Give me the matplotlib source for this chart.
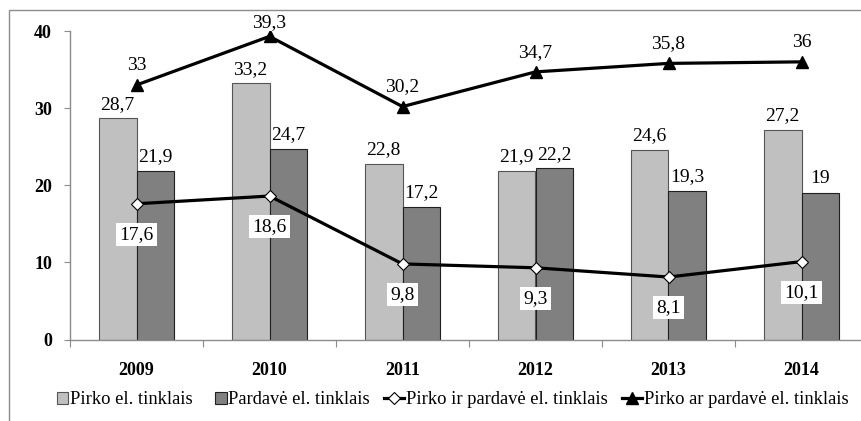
import numpy as np
import matplotlib
matplotlib.use("Agg")
import matplotlib.pyplot as plt
from matplotlib.patches import Rectangle
from matplotlib.lines import Line2D

plt.rcParams['font.family'] = ['Liberation Serif', 'DejaVu Serif']

years = ["2009", "2010", "2011", "2012", "2013", "2014"]
pirko = [28.7, 33.2, 22.8, 21.9, 24.6, 27.2]
pardave = [21.9, 24.7, 17.2, 22.2, 19.3, 19.0]
pirko_ir = [17.6, 18.6, 9.8, 9.3, 8.1, 10.1]
pirko_ar = [33, 39.3, 30.2, 34.7, 35.8, 36]

names = ["Pirko el. tinklais", "Pardavė el. tinklais",
         "Pirko ir pardavė el. tinklais", "Pirko ar pardavė el. tinklais"]

def fmt(v):
    s = ("%.1f" % v).rstrip("0").rstrip(".")
    return s.replace(".", ",")

fig = plt.figure(figsize=(8.61, 4.21), dpi=100)
# outer chart border (right and bottom run off the image)
fig.patches.append(Rectangle((9/861, -0.05), 1.2, 1 - 10/421 + 0.05,
                             transform=fig.transFigure, fill=False,
                             edgecolor='#8c8c8c', lw=1.0))

ax = fig.add_axes([70/861, 81.5/421, 798/861, 308.5/421])
x = np.arange(len(years))
w = 0.283

ax.bar(x - w/2, pirko, w, color='#c0c0c0', edgecolor='#555555', lw=0.8, zorder=2)
ax.bar(x + w/2, pardave, w, color='#808080', edgecolor='#202020', lw=0.8, zorder=2)

for xs, vals in ((x - w/2, pirko), (x + w/2, pardave)):
    for xi, v in zip(xs, vals):
        ax.annotate(fmt(v), (xi, v), xytext=(0, 4), textcoords='offset points',
                    ha='center', va='bottom', fontsize=14, zorder=5)

ax.plot(x, pirko_ir, color='black', lw=2.3, marker='D', ms=6,
        mfc='white', mec='black', mew=0.8, zorder=4)
ax.plot(x, pirko_ar, color='black', lw=2.3, marker='^', ms=8,
        mfc='black', mec='black', zorder=4)

for xi, v in zip(x, pirko_ir):
    ax.annotate(fmt(v), (xi, v), xytext=(0, -22), textcoords='offset points',
                ha='center', va='center', fontsize=14, zorder=6,
                bbox=dict(boxstyle='square,pad=0.15', fc='white', ec='none'))

for xi, v in zip(x, pirko_ar):
    dy = 4 if v == max(pirko_ar) else 8
    ax.annotate(fmt(v), (xi, v), xytext=(0, dy), textcoords='offset points',
                ha='center', va='bottom', fontsize=14, zorder=6)

ax.set_xlim(-0.5, len(years) - 0.5)
ax.set_ylim(0, 40)
ax.set_yticks([0, 10, 20, 30, 40])
ax.set_yticklabels(["0", "10", "20", "30", "40"], fontweight='bold', fontsize=13)

ax.set_xticks(np.arange(-0.5, len(years), 1.0))
ax.set_xticklabels([])
ax.set_xticks(x, minor=True)
ax.set_xticklabels(years, minor=True, fontweight='bold', fontsize=13)
ax.tick_params(axis='x', which='minor', length=0, pad=16)
ax.tick_params(axis='x', which='major', length=5, color='#8c8c8c')
ax.tick_params(axis='y', length=4, color='#8c8c8c', pad=9)

for s in ('top', 'right'):
    ax.spines[s].set_visible(False)
for s in ('left', 'bottom'):
    ax.spines[s].set_color('#8c8c8c')
    ax.spines[s].set_linewidth(1.0)

handles = [
    Rectangle((0, 0), 1, 1, fc='#c0c0c0', ec='#555555', lw=0.8),
    Rectangle((0, 0), 1, 1, fc='#808080', ec='#202020', lw=0.8),
    Line2D([], [], color='black', lw=2.3, marker='D', ms=6, mfc='white', mec='black', mew=0.8),
    Line2D([], [], color='black', lw=2.3, marker='^', ms=8, mfc='black'),
]
leg = fig.legend(handles, names, loc='center', bbox_to_anchor=(448/861, 1 - 400/421),
                 ncol=4, frameon=False,
                 prop={'family': 'Liberation Serif', 'size': 13.3},
                 handlelength=1.1, handleheight=0.6, handletextpad=0.1,
                 columnspacing=0.75, borderaxespad=0, borderpad=0)
# small square swatches sitting right next to their text
for h in leg.legend_handles[:2]:
    w0 = h.get_width()
    h.set_x(h.get_x() + w0 - 8)
    h.set_width(8)

fig.savefig("out.png", dpi=100)
